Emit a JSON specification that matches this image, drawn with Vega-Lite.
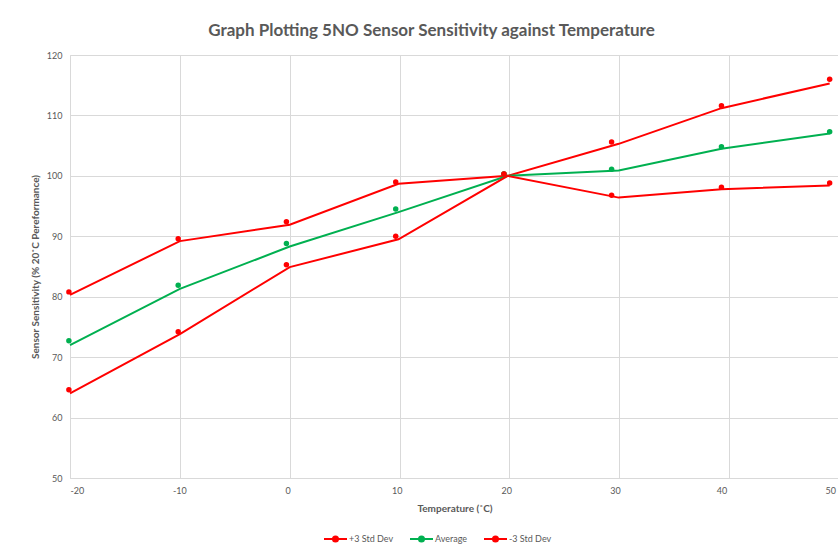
{
  "$schema": "https://vega.github.io/schema/vega-lite/v6.json",
  "width": 769,
  "height": 423,
  "autosize": {"type": "none"},
  "padding": {"left": 70, "top": 55, "right": 0, "bottom": 78},
  "background": "white",
  "title": {
    "text": "Graph Plotting 5NO Sensor Sensitivity against Temperature",
    "font": "Lato",
    "fontSize": 17,
    "fontWeight": "bold",
    "color": "#595959",
    "anchor": "middle",
    "dx": -23,
    "offset": 11
  },
  "config": {
    "view": {"stroke": null},
    "axis": {
      "labelFont": "Lato",
      "labelFontSize": 9,
      "labelColor": "#595959",
      "titleFont": "Lato",
      "titleFontSize": 10,
      "titleFontWeight": "bold",
      "titleColor": "#595959",
      "gridColor": "#d9d9d9",
      "gridWidth": 1,
      "domainColor": "#d9d9d9",
      "ticks": false
    }
  },
  "data": {
    "values": [
      {"series": "+3 Std Dev", "lt": -20, "lv": 80.3, "mt": -20.1, "mv": 80.8},
      {"series": "+3 Std Dev", "lt": -10, "lv": 89.2, "mt": -10.15, "mv": 89.6},
      {"series": "+3 Std Dev", "lt": 0, "lv": 91.9, "mt": -0.3, "mv": 92.4},
      {"series": "+3 Std Dev", "lt": 9.9, "lv": 98.7, "mt": 9.65, "mv": 99.0},
      {"series": "+3 Std Dev", "lt": 19.85, "lv": 100, "mt": 19.5, "mv": 100.3},
      {"series": "+3 Std Dev", "lt": 29.95, "lv": 105.3, "mt": 29.3, "mv": 105.6},
      {"series": "+3 Std Dev", "lt": 39.3, "lv": 111.2, "mt": 39.3, "mv": 111.6},
      {"series": "+3 Std Dev", "lt": 49.15, "lv": 115.3, "mt": 49.15, "mv": 116.0},
      {"series": "Average", "lt": -20, "lv": 72.0, "mt": -20.1, "mv": 72.7},
      {"series": "Average", "lt": -10, "lv": 81.3, "mt": -10.15, "mv": 81.9},
      {"series": "Average", "lt": 0, "lv": 88.3, "mt": -0.3, "mv": 88.8},
      {"series": "Average", "lt": 9.9, "lv": 94.0, "mt": 9.65, "mv": 94.5},
      {"series": "Average", "lt": 19.85, "lv": 100, "mt": 19.5, "mv": 100.3},
      {"series": "Average", "lt": 29.95, "lv": 100.9, "mt": 29.3, "mv": 101.1},
      {"series": "Average", "lt": 39.3, "lv": 104.5, "mt": 39.3, "mv": 104.8},
      {"series": "Average", "lt": 49.15, "lv": 107.0, "mt": 49.15, "mv": 107.3},
      {"series": "-3 Std Dev", "lt": -20, "lv": 64.0, "mt": -20.1, "mv": 64.6},
      {"series": "-3 Std Dev", "lt": -10, "lv": 73.8, "mt": -10.15, "mv": 74.2},
      {"series": "-3 Std Dev", "lt": 0, "lv": 84.9, "mt": -0.3, "mv": 85.3},
      {"series": "-3 Std Dev", "lt": 9.9, "lv": 89.5, "mt": 9.65, "mv": 90.0},
      {"series": "-3 Std Dev", "lt": 19.85, "lv": 100, "mt": 19.5, "mv": 100.3},
      {"series": "-3 Std Dev", "lt": 29.95, "lv": 96.4, "mt": 29.3, "mv": 96.8},
      {"series": "-3 Std Dev", "lt": 39.3, "lv": 97.8, "mt": 39.3, "mv": 98.1},
      {"series": "-3 Std Dev", "lt": 49.15, "lv": 98.4, "mt": 49.15, "mv": 98.8}
    ]
  },
  "resolve": {"axis": {"x": "independent"}},
  "layer": [
    {
      "mark": {"type": "line", "strokeWidth": 2, "clip": false},
      "encoding": {
        "x": {
          "field": "lt",
          "type": "quantitative",
          "scale": {"domain": [-20, 50], "nice": false, "zero": false},
          "axis": {
            "orient": "bottom",
            "values": [-20, -10, 0, 10, 20, 30, 40, 50],
            "labels": false,
            "title": null,
            "grid": true
          }
        },
        "y": {
          "field": "lv",
          "type": "quantitative",
          "scale": {"domain": [50, 120], "nice": false, "zero": false},
          "axis": {
            "values": [50, 60, 70, 80, 90, 100, 110, 120],
            "title": "Sensor Sensitivity (% 20˚C Pereformance)",
            "titlePadding": 6,
            "labelPadding": 8
          }
        },
        "color": {
          "field": "series",
          "type": "nominal",
          "scale": {
            "domain": ["+3 Std Dev", "Average", "-3 Std Dev"],
            "range": ["#FF0000", "#00B050", "#FF0000"]
          },
          "legend": {
            "title": null,
            "orient": "none",
            "direction": "horizontal",
            "legendX": 253,
            "legendY": 471,
            "symbolType": "M-1,0H1M0.22,0A0.22,0.22,0,1,1,-0.22,0A0.22,0.22,0,1,1,0.22,0Z",
            "symbolSize": 529,
            "symbolStrokeWidth": 2,
            "labelFont": "Lato",
            "labelFontSize": 9,
            "labelColor": "#595959",
            "labelOffset": 1,
            "columnPadding": 12
          }
        },
        "order": {"field": "lt", "type": "quantitative"}
      }
    },
    {
      "mark": {"type": "point", "filled": true, "size": 30, "opacity": 1, "clip": false},
      "encoding": {
        "x": {
          "field": "mt",
          "type": "quantitative",
          "axis": {
            "orient": "bottom",
            "values": [-20, -10.05, -0.2, 9.75, 19.7, 29.6, 39.3, 49.2],
            "labelExpr": "round(datum.value / 10) * 10 < 0 ? '-' + abs(round(datum.value / 10) * 10) : '' + round(datum.value / 10) * 10",
            "labelBound": false,
            "domain": false,
            "grid": false,
            "title": "Temperature (˚C)",
            "titlePadding": 8,
            "labelPadding": 8
          }
        },
        "y": {"field": "mv", "type": "quantitative"},
        "color": {"field": "series", "type": "nominal", "legend": null}
      }
    }
  ]
}
